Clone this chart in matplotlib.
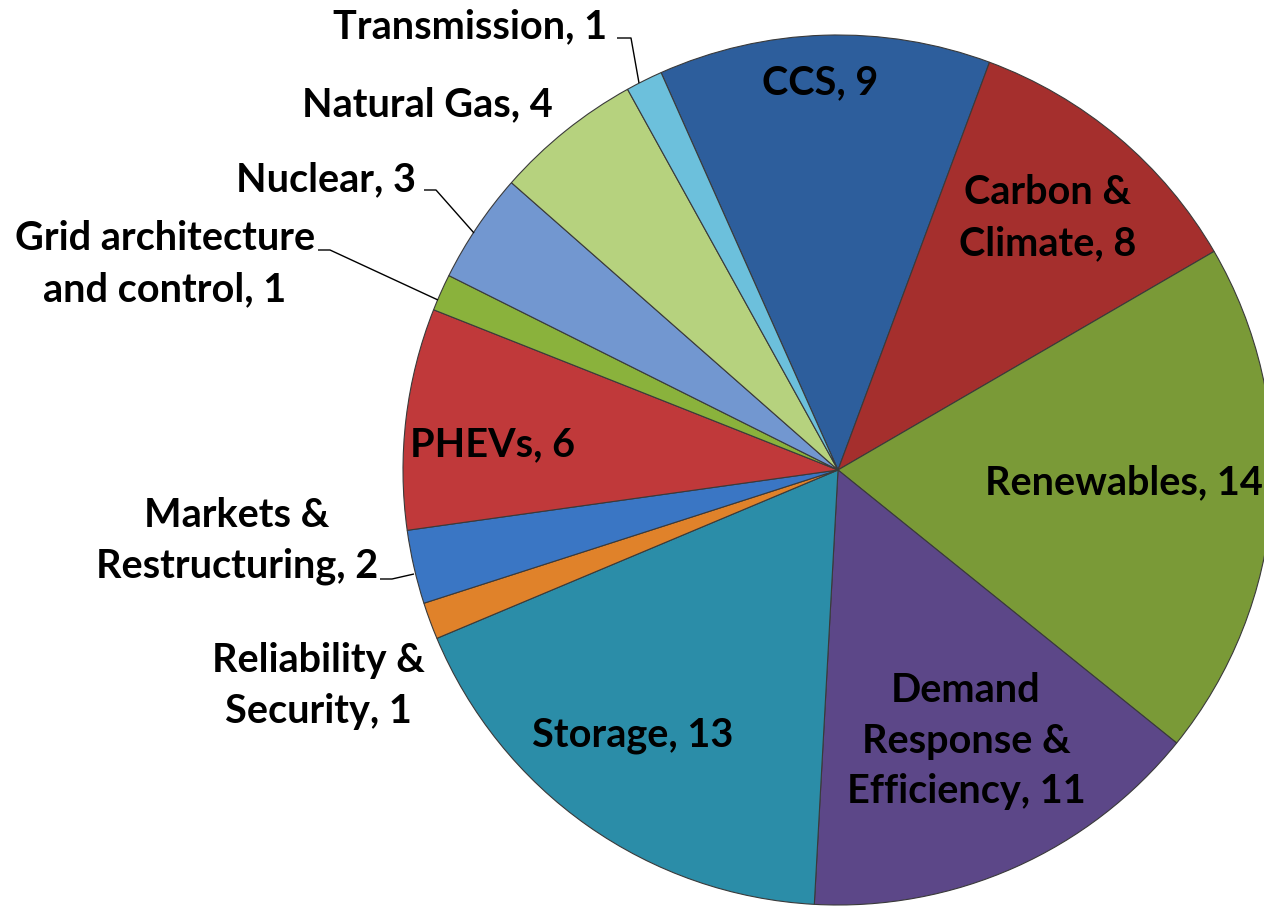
import matplotlib
matplotlib.use("Agg")
import matplotlib.pyplot as plt

categories = ["CCS", "Carbon &\nClimate", "Renewables", "Demand\nResponse &\nEfficiency",
              "Storage", "Reliability &\nSecurity", "Markets &\nRestructuring", "PHEVs",
              "Grid architecture\nand control", "Nuclear", "Natural Gas", "Transmission"]
values = [9, 8, 14, 11, 13, 1, 2, 6, 1, 3, 4, 1]
colors = ["#2D5E9C", "#A52F2D", "#7A9A37", "#5C4788", "#2B8DA8", "#E0822A",
          "#3A76C4", "#C0393A", "#8AB23C", "#7297D0", "#B6D27E", "#6CC0DC"]

W, H = 1264, 906
fig = plt.figure(figsize=(W / 100, H / 100), dpi=100)
ax = fig.add_axes([0, 0, 1, 1])

cx, cy, R = 838, H - 470, 435
wedges, _ = ax.pie(values, colors=colors, startangle=114, counterclock=False,
                   center=(cx, cy), radius=R, frame=True,
                   wedgeprops=dict(edgecolor="#3a3a3a", linewidth=0.8))
ax.set_xlim(0, W)
ax.set_ylim(0, H)
ax.set_aspect("equal")
ax.axis("off")

font = dict(family="Lato", fontweight="bold", fontsize=28.5, color="black",
            linespacing=1.45)

def lab(i, x, y, ha="center"):
    ax.text(x, H - y, f"{categories[i]}, {values[i]}", ha=ha, va="center",
            multialignment="center", **font)

lab(0, 820, 83)
lab(1, 1048, 218)
lab(2, 1124, 483)
lab(3, 966, 741)
lab(4, 633, 735)
lab(5, 318, 686)
lab(6, 237, 541)
lab(7, 493, 445)
lab(8, 165, 264)
lab(9, 416, 180, ha="right")
lab(10, 553, 105, ha="right")
lab(11, 607, 27, ha="right")

def leader(pts):
    xs = [p[0] for p in pts]
    ys = [H - p[1] for p in pts]
    ax.plot(xs, ys, color="black", linewidth=1.0, solid_capstyle="butt")

leader([(617, 38), (631, 38), (639, 83)])
leader([(424, 190), (436, 190), (474, 233)])
leader([(318, 250), (330, 250), (438, 300)])
leader([(380, 579), (392, 579), (414, 574)])

fig.savefig("out.png", dpi=100)
